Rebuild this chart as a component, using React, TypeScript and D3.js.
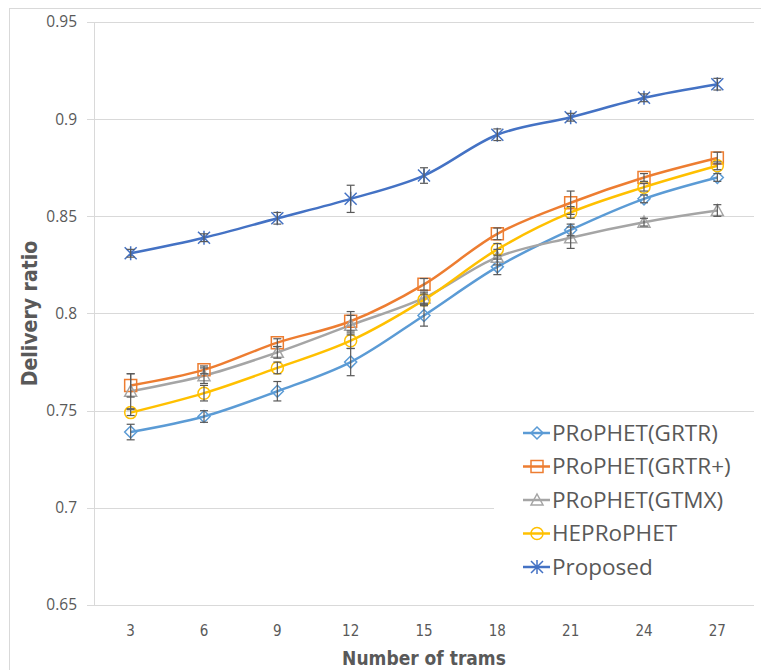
import React, { useEffect, useRef } from "react";
import * as d3 from "d3";

const trams = [3, 6, 9, 12, 15, 18, 21, 24, 27];
const yTicks = [0.65, 0.7, 0.75, 0.8, 0.85, 0.9, 0.95];

const grtr = [0.739, 0.747, 0.76, 0.775, 0.799, 0.824, 0.843, 0.859, 0.87];
const grtrErr = [0.004, 0.003, 0.005, 0.007, 0.0055, 0.004, 0.003, 0.002, 0.002];
const grtrPlus = [0.763, 0.771, 0.785, 0.796, 0.815, 0.841, 0.857, 0.87, 0.88];
const grtrPlusErr = [0.006, 0.002, 0.002, 0.005, 0.003, 0.003, 0.006, 0.002, 0.003];
const gtmx = [0.76, 0.768, 0.78, 0.794, 0.808, 0.829, 0.839, 0.847, 0.853];
const gtmxErr = [0.009, 0.004, 0.003, 0.005, 0.003, 0.004, 0.0055, 0.002, 0.003];
const heprophet = [0.749, 0.759, 0.772, 0.786, 0.807, 0.833, 0.852, 0.865, 0.876];
const heprophetErr = [0.0015, 0.004, 0.003, 0.004, 0.003, 0.003, 0.003, 0.002, 0.002];
const proposed = [0.831, 0.839, 0.849, 0.859, 0.871, 0.892, 0.901, 0.911, 0.918];
const proposedErr = [0.002, 0.002, 0.003, 0.007, 0.004, 0.003, 0.002, 0.002, 0.003];

const seriesNames = ["PRoPHET(GRTR)", "PRoPHET(GRTR+)", "PRoPHET(GTMX)", "HEPRoPHET", "Proposed"];

type Series = { name: string; values: number[]; err: number[]; color: string; marker: string };

const series: Series[] = [
  { name: seriesNames[0], values: grtr, err: grtrErr, color: "#5B9BD5", marker: "diamond" },
  { name: seriesNames[1], values: grtrPlus, err: grtrPlusErr, color: "#ED7D31", marker: "square" },
  { name: seriesNames[2], values: gtmx, err: gtmxErr, color: "#A5A5A5", marker: "triangle" },
  { name: seriesNames[3], values: heprophet, err: heprophetErr, color: "#FFC000", marker: "circle" },
  { name: seriesNames[4], values: proposed, err: proposedErr, color: "#4472C4", marker: "star" },
];

const markerPath = (type: string) => {
  switch (type) {
    case "diamond":
      return "M0,-6L6,0L0,6L-6,0Z";
    case "square":
      return "M-6,-6H6V6H-6Z";
    case "triangle":
      return "M0,-6L6,5H-6Z";
    case "circle":
      return "M6,0A6,6 0 1,1 -6,0A6,6 0 1,1 6,0Z";
    default:
      return "M-6,-6L6,6M-6,6L6,-6M0,-7V7";
  }
};

const App = () => {
  const svgRef = useRef<SVGSVGElement>(null);

  useEffect(() => {
    const W = 761;
    const H = 670;
    const margin = { left: 94, right: 7, top: 22, bottom: 65 };

    const svg = d3.select(svgRef.current);
    svg.selectAll("*").remove();

    svg.append("rect").attr("width", W).attr("height", H).attr("fill", "#fff");
    svg
      .append("rect")
      .attr("x", 9.5)
      .attr("y", 8.5)
      .attr("width", 800)
      .attr("height", 700)
      .attr("fill", "none")
      .attr("stroke", "#D9D9D9");

    const x = d3
      .scaleBand<number>()
      .domain(trams)
      .range([margin.left, W - margin.right]);
    const y = d3
      .scaleLinear()
      .domain([0.65, 0.95])
      .range([H - margin.bottom, margin.top]);
    const cx = (d: number) => (x(d) as number) + x.bandwidth() / 2;

    // grid
    svg
      .selectAll("line.grid")
      .data(yTicks)
      .enter()
      .append("line")
      .attr("x1", margin.left - 7)
      .attr("x2", W - margin.right)
      .attr("y1", (d) => Math.round(y(d)) + 0.5)
      .attr("y2", (d) => Math.round(y(d)) + 0.5)
      .attr("stroke", "#D9D9D9");
    svg
      .append("line")
      .attr("x1", margin.left + 0.5)
      .attr("x2", margin.left + 0.5)
      .attr("y1", y(0.95))
      .attr("y2", y(0.65))
      .attr("stroke", "#D9D9D9");

    svg
      .selectAll("text.ytick")
      .data(yTicks)
      .enter()
      .append("text")
      .attr("x", 77)
      .attr("y", (d) => y(d))
      .attr("dy", "0.35em")
      .attr("text-anchor", "end")
      .attr("fill", "#595959")
      .style("font-family", "'Open Sans', sans-serif")
      .style("font-size", "15.5px")
      .text((d) => d3.format("")(d));

    svg
      .selectAll("text.xtick")
      .data(trams)
      .enter()
      .append("text")
      .attr("x", cx)
      .attr("y", 636)
      .attr("text-anchor", "middle")
      .attr("fill", "#595959")
      .style("font-family", "'Liberation Sans Narrow', 'DejaVu Sans Condensed', sans-serif")
      .style("font-size", "15px")
      .text((d) => d);

    svg
      .append("text")
      .attr("x", (margin.left + W - margin.right) / 2)
      .attr("y", 665)
      .attr("text-anchor", "middle")
      .attr("fill", "#595959")
      .style("font-family", "'Liberation Sans Narrow', 'DejaVu Sans Condensed', sans-serif")
      .style("font-size", "19px")
      .style("font-weight", "bold")
      .text("Number of trams");

    svg
      .append("text")
      .attr("transform", `translate(37,${y(0.8)}) rotate(-90)`)
      .attr("text-anchor", "middle")
      .attr("fill", "#595959")
      .style("font-family", "'Liberation Sans Narrow', 'DejaVu Sans Condensed', sans-serif")
      .style("font-size", "21px")
      .style("font-weight", "bold")
      .text("Delivery ratio");

    const line = d3
      .line<number>()
      .x((_, i) => cx(trams[i]))
      .y((d) => y(d))
      .curve(d3.curveCatmullRom.alpha(0.5));

    // lines
    series.forEach((s) => {
      svg
        .append("path")
        .attr("d", line(s.values))
        .attr("fill", "none")
        .attr("stroke", s.color)
        .attr("stroke-width", 2.5);
    });

    // markers
    series.forEach((s) => {
      svg
        .selectAll(null)
        .data(s.values)
        .enter()
        .append("path")
        .attr("transform", (d, i) => `translate(${cx(trams[i])},${y(d)})`)
        .attr("d", markerPath(s.marker))
        .attr("fill", "none")
        .attr("stroke", s.color)
        .attr("stroke-width", 1.5);
    });

    // error bars
    series.forEach((s) => {
      const g = svg
        .selectAll(null)
        .data(s.values)
        .enter()
        .append("g")
        .attr("stroke", "#595959")
        .attr("stroke-width", 1.2);
      g.append("line")
        .attr("x1", (_, i) => cx(trams[i]))
        .attr("x2", (_, i) => cx(trams[i]))
        .attr("y1", (d, i) => y(d + s.err[i]))
        .attr("y2", (d, i) => y(d - s.err[i]));
      [1, -1].forEach((sign) => {
        g.append("line")
          .attr("x1", (_, i) => cx(trams[i]) - 4)
          .attr("x2", (_, i) => cx(trams[i]) + 4)
          .attr("y1", (d, i) => y(d + sign * s.err[i]))
          .attr("y2", (d, i) => y(d + sign * s.err[i]));
      });
    });

    // legend
    const legend = svg.append("g");
    legend
      .append("rect")
      .attr("x", 494)
      .attr("y", 415)
      .attr("width", W - margin.right - 494)
      .attr("height", 185)
      .attr("fill", "#fff");
    series.forEach((s, i) => {
      const ly = 433 + i * 33.5;
      legend
        .append("line")
        .attr("x1", 523)
        .attr("x2", 550)
        .attr("y1", ly)
        .attr("y2", ly)
        .attr("stroke", s.color)
        .attr("stroke-width", 2.5);
      legend
        .append("path")
        .attr("transform", `translate(537,${ly})`)
        .attr("d", markerPath(s.marker))
        .attr("fill", "none")
        .attr("stroke", s.color)
        .attr("stroke-width", 1.5);
      legend
        .append("text")
        .attr("x", 552)
        .attr("y", ly)
        .attr("dy", "0.35em")
        .attr("fill", "#595959")
        .style("font-family", "'Open Sans', sans-serif")
        .style("font-size", "22.5px")
        .text(s.name);
    });
  }, []);

  return (
    <svg
      ref={svgRef}
      width={761}
      height={670}
      style={{ position: "absolute", left: 0, top: 0 }}
    />
  );
};

export default App;
